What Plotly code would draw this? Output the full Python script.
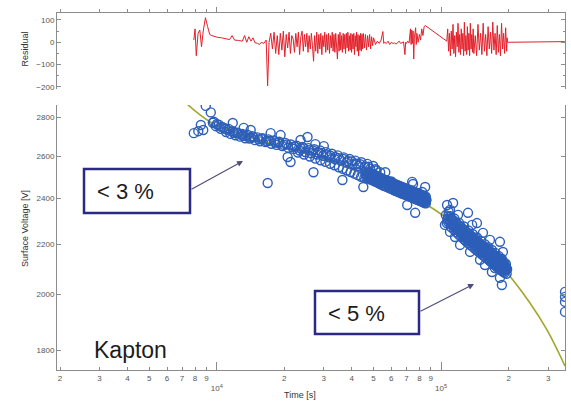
import plotly.graph_objects as go

# ---------------- data ----------------
early_t = [7900, 8270, 8490, 8700, 8930, 9400, 9600]
early_v = [2716, 2726, 2758, 2732, 2860, 2825, 2770]

band_t = [9700, 9900, 10200, 10400, 10700, 11000, 11300, 11500, 11800, 12100, 12400, 12700, 13000, 13400,
          13700, 14000, 14400, 14800, 15200, 15600, 16000, 16500, 17000, 17500, 18000, 18500, 19000, 19600,
          20200, 20800, 21400, 22000, 22700, 23400, 24100, 24800, 25600, 26400, 27200, 28000, 28900, 29800,
          30700, 31600, 32600, 33600, 34600, 35700, 36800, 37900, 39100, 40300, 41500, 42800, 44100, 45500,
          46900, 48300, 49800, 51300]
band_v = [2775, 2752, 2760, 2738, 2746, 2722, 2738, 2712, 2726, 2705, 2718, 2698, 2712, 2690,
          2708, 2688, 2700, 2680, 2694, 2674, 2690, 2670, 2684, 2662, 2678, 2656, 2672, 2650,
          2666, 2642, 2658, 2636, 2652, 2628, 2646, 2620, 2640, 2614, 2634, 2608, 2628, 2602,
          2620, 2594, 2612, 2586, 2604, 2578, 2594, 2568, 2586, 2560, 2578, 2552, 2570, 2545,
          2562, 2538, 2552, 2530]

band2_t = [10000, 10900, 11900, 13100, 14200, 15400, 16700, 18200, 19900, 21700, 23700, 25800, 28300, 30900,
           33700, 36700, 40000, 43600, 47500, 51000, 53500]
band2_v = [2762, 2738, 2718, 2702, 2692, 2684, 2676, 2668, 2656, 2646, 2638, 2630, 2618, 2608,
           2596, 2586, 2574, 2560, 2548, 2536, 2522]

band3_t = [10500, 11150, 12250, 12850, 13550, 14600, 15800, 17200, 18800, 20500, 22300, 24400, 26800, 29300,
           32000, 35000, 38400, 42000, 45800]
band3_v = [2748, 2733, 2716, 2709, 2702, 2694, 2686, 2677, 2667, 2658, 2648, 2639, 2628, 2616,
           2603, 2590, 2576, 2563, 2550]

up_t = [11780, 13180, 14160, 17380, 19250, 23620, 25380, 27500, 30000]
up_v = [2769, 2743, 2732, 2716, 2706, 2681, 2696, 2660, 2650]

low_t = [23000, 24500, 26000, 27500, 29000, 30500, 32000, 33500, 35000, 36500, 38000, 39500, 41000, 42500,
         44000, 45500]
low_v = [2618, 2608, 2598, 2588, 2580, 2572, 2563, 2555, 2546, 2538, 2530, 2523, 2515, 2508, 2500, 2494]

lo_t = [16860, 20690, 21320, 26980, 36310, 45010, 56380, 74310, 84900, 82360, 70630, 76640, 75000, 60000]
lo_v = [2471, 2596, 2571, 2522, 2485, 2452, 2522, 2476, 2452, 2429, 2370, 2335, 2466, 2478]

dense_t = [46000, 47000, 48000, 49000, 50000, 51000, 52000, 53000, 54000, 55000, 56000, 57000, 58000, 59000,
           60000, 61000, 62000, 63000, 64000, 65000, 66000, 67000, 68000, 69000, 70000, 71000, 72000, 73000,
           74000, 75000, 76000, 77000, 78000, 79000, 80000, 81000, 82000, 83000, 84000, 85000, 86000]
dense_v = [2515, 2500, 2510, 2495, 2503, 2488, 2497, 2482, 2490, 2475, 2483, 2468, 2476, 2462,
           2470, 2456, 2464, 2450, 2458, 2444, 2452, 2438, 2446, 2432, 2440, 2427, 2435, 2422,
           2430, 2417, 2424, 2411, 2418, 2405, 2412, 2400, 2406, 2395, 2400, 2390, 2394]

dense2_t = [50500, 55500, 60500, 65500, 70500, 75500, 80500, 85500, 48500, 53500, 58500, 63500, 68500, 73500,
            78500, 83500]
dense2_v = [2496, 2472, 2458, 2440, 2428, 2414, 2400, 2386, 2490, 2470, 2455, 2440, 2425, 2410, 2398, 2385]

dense3_t = [46500, 47500, 48500, 49500, 50500, 51500, 52500, 53500, 54500, 55500, 56500, 57500, 58500, 59500,
            60500, 61500, 62500, 63500, 64500, 65500, 66500, 67500, 68500, 69500, 70500, 71500, 72500, 73500,
            74500, 75500, 76500, 77500, 78500, 79500, 80500, 81500, 82500, 83500, 84500, 85500]
dense3_v = [2526, 2522, 2517, 2513, 2509, 2505, 2501, 2496, 2492, 2488, 2485, 2482, 2478, 2475,
            2472, 2468, 2465, 2462, 2459, 2456, 2453, 2451, 2448, 2446, 2443, 2441, 2438, 2436,
            2433, 2431, 2428, 2426, 2423, 2421, 2419, 2416, 2414, 2412, 2409, 2407]
dense4_v = [2496, 2492, 2487, 2483, 2479, 2475, 2471, 2466, 2462, 2458, 2455, 2452, 2448, 2445,
            2442, 2438, 2435, 2432, 2429, 2426, 2423, 2421, 2418, 2416, 2413, 2411, 2408, 2406,
            2403, 2401, 2398, 2396, 2393, 2391, 2389, 2386, 2384, 2382, 2379, 2377]
dense5_t = [46750, 47750, 48750, 49750, 50750, 51750, 52750, 53750, 54750, 55750, 56750, 57750, 58750, 59750,
            60750, 61750, 62750, 63750, 64750, 65750, 66750, 67750, 68750, 69750, 70750, 71750, 72750, 73750,
            74750, 75750, 76750, 77750, 78750, 79750, 80750, 81750, 82750, 83750, 84750, 85750]
dense5_v = [2509, 2505, 2500, 2496, 2492, 2488, 2484, 2479, 2475, 2471, 2468, 2465, 2461, 2458,
            2455, 2451, 2448, 2445, 2442, 2439, 2436, 2434, 2431, 2429, 2426, 2424, 2421, 2419,
            2416, 2414, 2411, 2409, 2406, 2404, 2402, 2399, 2397, 2395, 2392, 2390]

c2_t = [105000, 107000, 109000, 110000, 112000, 113000, 115000, 116000, 118000, 119000, 121000, 122000, 124000,
        125000, 127000, 128000, 130000, 131000, 133000, 134000, 136000, 137000, 139000, 140000, 142000, 143000,
        145000, 146000, 148000, 149000, 151000, 152000, 154000, 155000, 157000, 158000, 160000, 161000, 163000,
        164000, 166000, 167000, 169000, 170000, 172000, 173000, 175000, 176000, 178000, 179000, 181000, 182000,
        184000, 185000, 187000, 188000, 190000, 191000, 193000, 195000, 197000]
c2_v = [2325, 2305, 2300, 2320, 2285, 2300, 2275, 2292, 2265, 2282, 2258, 2275, 2245,
        2265, 2240, 2255, 2230, 2248, 2222, 2238, 2215, 2230, 2208, 2222, 2200, 2215,
        2192, 2208, 2185, 2200, 2178, 2193, 2172, 2186, 2165, 2180, 2158, 2172, 2152,
        2165, 2146, 2158, 2140, 2152, 2135, 2146, 2128, 2140, 2122, 2135, 2117, 2128,
        2112, 2123, 2107, 2117, 2102, 2112, 2098, 2105, 2098]

c2b_t = [106000, 111000, 114000, 117000, 120000, 123000, 126000, 129000, 132000, 135000, 138000, 141000,
         144000, 147000, 150000, 153000, 156000, 159000, 162000, 165000, 168000, 171000, 174000, 177000,
         180000, 183000, 186000, 189000, 192000, 196000]
c2b_v = [2290, 2272, 2262, 2250, 2240, 2232, 2222, 2212, 2205, 2196, 2190, 2182,
         2176, 2168, 2162, 2155, 2150, 2143, 2138, 2131, 2126, 2120, 2114, 2108,
         2104, 2098, 2093, 2088, 2084, 2080]

c2c_t = [108000, 114500, 120500, 126500, 132500, 138500, 144500, 150500, 156500, 162500, 168500, 174500,
         180500, 186500]
c2c_v = [2340, 2310, 2290, 2275, 2258, 2242, 2228, 2214, 2200, 2188, 2176, 2164, 2152, 2140]

c2d_t = [107500, 110500, 113500, 116500, 119500, 122500, 125500, 128500, 131500, 134500, 137500, 140500,
         143500, 146500, 149500, 152500, 155500, 158500, 161500, 164500, 167500, 170500, 173500, 176500,
         179500, 182500, 185500, 188500, 191500, 194500]
c2d_v = [2320, 2311, 2301, 2292, 2282, 2272, 2263, 2255, 2247, 2239, 2232, 2224,
         2216, 2208, 2200, 2194, 2188, 2183, 2177, 2171, 2166, 2160, 2154, 2149,
         2144, 2139, 2134, 2129, 2124, 2119]
c2e_v = [2295, 2286, 2276, 2267, 2257, 2247, 2238, 2230, 2222, 2214, 2207, 2199,
         2191, 2183, 2175, 2169, 2163, 2158, 2152, 2146, 2141, 2135, 2129, 2124,
         2119, 2114, 2109, 2104, 2099, 2094]
c2f_t = [106750, 109750, 112750, 115750, 118750, 121750, 124750, 127750, 130750, 133750, 136750, 139750,
         142750, 145750, 148750, 151750, 154750, 157750, 160750, 163750, 166750, 169750, 172750, 175750,
         178750, 181750, 184750, 187750, 190750, 193750]
c2f_v = [2307, 2298, 2288, 2279, 2269, 2259, 2250, 2242, 2234, 2226, 2219, 2211,
         2203, 2195, 2187, 2181, 2175, 2170, 2164, 2158, 2153, 2147, 2141, 2136,
         2131, 2126, 2121, 2116, 2111, 2106]

c2o_t = [113100, 109600, 131800, 144500, 153700, 182900, 188600, 106300, 119000, 165100, 137500, 109600,
         121500, 134600, 149100, 168500, 182900, 186600, 104000, 115400, 127900, 156900, 173800]
c2o_v = [2379, 2348, 2335, 2290, 2248, 2210, 2168, 2370, 2326, 2218, 2282, 2252,
         2197, 2168, 2136, 2087, 2064, 2036, 2282, 2230, 2218, 2115, 2103]

right_t = [356800, 356800, 356800, 356800]
right_v = [2010, 1991, 1972, 1935]

fit_t = [7400, 9520, 14060, 23490, 32960, 53410, 86500, 104100, 149100, 196700, 249000, 296600, 356800]
fit_v = [2868, 2769, 2696, 2621, 2571, 2476, 2370, 2317, 2197, 2084, 1968, 1870, 1746]

res_t = [7900, 8000, 8100, 8250, 8400, 8550, 8700, 8900, 9100, 9300, 9500, 9800, 10100, 10500, 11000, 11400,
         11700, 12000, 12500, 13000, 13300, 13600, 13900, 14200, 14500, 14800, 15200, 15500, 15800, 16200,
         16600, 16850, 17100, 17400, 17700, 18000, 18300, 18600, 18900, 19200, 19500, 19800, 20100, 20400,
         20700, 21000, 21300, 21600, 21900, 22200, 22500, 22800, 23100, 23400, 23700, 24000, 24300, 24600,
         24900, 25200, 25500, 25800, 26100, 26400, 26700, 27000, 27300, 27600, 27900, 28200, 28500, 28800,
         29100, 29400, 29700, 30000, 30300, 30600, 30900, 31200, 31500, 31800, 32100, 32400, 32700, 33000,
         33300, 33600, 33900, 34200, 34500, 34800, 35100, 35400, 35700, 36000, 36300, 36600, 36900, 37200,
         37500, 37800, 38100, 38400, 38700, 39000, 39300, 39600, 39900, 40200, 40500, 40800, 41100, 41400,
         41700, 42000, 42300, 42600, 42900, 43200, 43500, 43800, 44100, 44400, 44700, 45000, 45500, 46000,
         46500, 47000, 47500, 48000, 48500, 49000, 49500, 50000, 51000, 52000, 53000, 54000, 55000, 55500,
         56000, 57000, 58000, 59000, 60000, 61000, 62000, 63000, 64000, 65000, 66000, 67000, 68000, 69000,
         69500, 70000, 71000, 72000, 73000, 73500, 74000, 74500, 75000, 75500, 76000, 77000, 77500, 78000,
         79000, 80000, 81000, 82000, 83000, 84000, 85000, 106000, 107000, 108000, 109000, 110000, 111000,
         112000, 113000, 114000, 115000, 116000, 117000, 118000, 119000, 120000, 121000, 122000, 123000,
         124000, 125000, 126000, 127000, 128000, 129000, 130000, 131000, 132000, 133000, 134000, 135000,
         136000, 137000, 138000, 139000, 140000, 142000, 144000, 146000, 148000, 150000, 152000, 154000,
         156000, 158000, 160000, 162000, 164000, 166000, 168000, 170000, 172000, 174000, 176000, 178000,
         180000, 182000, 184000, 186000, 188000, 190000, 192000, 194000, 196000, 197000, 198000, 356000]
res_v = [10, 60, -60, 40, 55, -20, 50, 110, 70, 35, 30, 25, 22, 20, 15, 12,
         30, 10, 8, 5, 30, 0, 25, 5, 20, -2, -5, -10, 0, -5,
         10, -195, 0, 40, -30, 45, -50, 30, -55, 40, -35, 50, -65, 35,
         -25, 45, -50, 30, 15, -45, 40, -20, 45, -55, 25, 50, -40, 35,
         -20, 40, -45, 30, -30, 40, -15, -85, 30, -40, 45, -50, 35, -30,
         40, -55, 30, -20, 45, -45, 35, -35, 40, -50, 30, -25, 45, -40,
         35, -45, 40, -30, -75, 35, -40, 45, -35, 30, -45, 40, -30, 35,
         -50, 40, -25, 45, -40, 30, -35, 40, -45, 35, -30, 40, -55, 30,
         -20, 45, -40, 35, -62, 30, -35, 40, -40, 35, -30, 40, -25, 35,
         -35, 30, -20, 35, -30, 25, -15, 20, -10, 5, -5, 10, 48, -5,
         0, -5, 5, -10, 0, -5, -3, -8, 0, 5, -5, -3, 2, -55,
         0, -5, 5, -3, 60, -10, 55, -5, 50, -75, 20, 65, -10, 40,
         0, 35, 10, 60, 30, 70, 75, 5, 60, -40, 40, -60, 50,
         -30, 80, -50, 30, -65, 45, -20, 85, -45, 35, -55, 60,
         -30, 40, -60, 90, -40, 30, -55, 70, -35, 40, -60, 85,
         -30, 35, -45, 60, -50, 30, -60, 80, -35, 40, -55, 85,
         -40, 35, -60, 70, -30, 45, -50, 90, -35, 40, -55, 75,
         -45, 35, -60, 85, -30, 40, -50, 65, -40, 20, 0, 3]

x_tickvals = [2000, 3000, 4000, 5000, 6000, 7000, 8000, 9000, 10000,
              20000, 30000, 40000, 50000, 60000, 70000, 80000, 90000, 100000, 200000, 300000]
x_ticktext = ["2", "3", "4", "5", "6", "7", "8", "9", "<br>10<sup>4</sup>",
              "2", "3", "4", "5", "6", "7", "8", "9", "<br>10<sup>5</sup>", "2", "3"]
x_major = [10000, 100000]
v_tickvals = [1800, 2000, 2200, 2400, 2600, 2800]
r_tickvals = [-200, -100, 0, 100]

# ---------------- figure ----------------
W, H = 571, 414
def px(x):
    return x / W
def py(y):
    return 1 - y / H

scat_t = (early_t + band_t + band2_t + band3_t + up_t + low_t + lo_t + dense_t + dense2_t + dense3_t + dense3_t
          + dense5_t + c2_t + c2b_t + c2c_t + c2d_t + c2d_t + c2f_t + c2o_t + right_t)
scat_v = (early_v + band_v + band2_v + band3_v + up_v + low_v + lo_v + dense_v + dense2_v + dense3_v + dense4_v
          + dense5_v + c2_v + c2b_v + c2c_v + c2d_v + c2e_v + c2f_v + c2o_v + right_v)

AX = "#8c8c8c"
TK = "#555555"
FONT = "Liberation Sans, Arial, sans-serif"
BLUE = "rgb(45,95,185)"

fig = go.Figure()
fig.add_trace(go.Scatter(x=res_t, y=res_v, mode="lines", line=dict(color="#e3202a", width=1),
                         xaxis="x2", yaxis="y2", showlegend=False))
fig.add_trace(go.Scatter(x=fit_t, y=fit_v, mode="lines", line=dict(color="#a2a62c", width=1.6, shape="spline"),
                         xaxis="x", yaxis="y", showlegend=False))
fig.add_trace(go.Scatter(x=scat_t, y=scat_v, mode="markers",
                         marker=dict(symbol="circle-open", size=9, color=BLUE, line=dict(width=1.4, color=BLUE)),
                         xaxis="x", yaxis="y", showlegend=False))

xdom = [px(57), px(565)]
xr = [3.2876, 5.5524]
common_x = dict(type="log", range=xr, domain=xdom, showgrid=False, zeroline=False, showline=True,
                linecolor=AX, linewidth=1, tickmode="array", tickvals=x_tickvals, tickcolor=AX, tickangle=0,
                tickfont=dict(size=8, color=TK, family=FONT), automargin=False)

fig.update_layout(
    width=W, height=H, margin=dict(l=0, r=0, t=0, b=0, pad=0),
    paper_bgcolor="white", plot_bgcolor="white", showlegend=False,
    xaxis=dict(**common_x, anchor="y", ticktext=x_ticktext, ticks="inside", ticklen=3,
               ticklabelstandoff=0,
               minor=dict(tickmode="array", tickvals=x_major, ticks="inside", ticklen=8, tickcolor=AX)),
    xaxis2=dict(**common_x, anchor="y2", side="top", matches="x", showticklabels=False,
                ticks="outside", ticklen=3,
                minor=dict(tickmode="array", tickvals=x_major, ticks="outside", ticklen=5, tickcolor=AX)),
    yaxis=dict(type="log", range=[3.2388, 3.4571], domain=[py(370), py(105)], anchor="x",
               showgrid=False, zeroline=False, showline=True, linecolor=AX, mirror="ticks",
               tickmode="array", tickvals=v_tickvals, ticks="inside", ticklen=4, tickcolor=AX,
               tickfont=dict(size=8, color=TK, family=FONT), automargin=False),
    yaxis2=dict(range=[-209, 131], domain=[py(89), py(13)], anchor="x2",
                showgrid=False, zeroline=False, showline=True, linecolor=AX, mirror="ticks",
                tickmode="array", tickvals=r_tickvals, ticks="inside", ticklen=4, tickcolor=AX,
                minor=dict(dtick=50, ticks="inside", ticklen=2, tickcolor=AX),
                tickfont=dict(size=8, color=TK, family=FONT), automargin=False),
)

BOX = "#2a2a86"
ARROW = "#4e4e7c"
fig.add_shape(type="rect", xref="paper", yref="paper", x0=px(84), x1=px(190), y0=py(213), y1=py(169),
              line=dict(color=BOX, width=2.5), fillcolor="white", layer="above")
fig.add_shape(type="rect", xref="paper", yref="paper", x0=px(315), x1=px(419), y0=py(334), y1=py(291),
              line=dict(color=BOX, width=2.5), fillcolor="white", layer="above")

ann = []
ann.append(dict(text="< 3 %", x=px(95), y=py(191), xref="paper", yref="paper", xanchor="left", yanchor="middle",
                showarrow=False, font=dict(size=22, color="#1c1c1c", family=FONT)))
ann.append(dict(text="< 5 %", x=px(326), y=py(313), xref="paper", yref="paper", xanchor="left", yanchor="middle",
                showarrow=False, font=dict(size=22, color="#1c1c1c", family=FONT)))
ann.append(dict(text="Kapton", x=px(92), y=py(350), xref="paper", yref="paper", xanchor="left", yanchor="middle",
                showarrow=False, font=dict(size=23, color="#1c1c1c", family=FONT)))
ann.append(dict(text="", x=px(243), y=py(161), xref="paper", yref="paper", showarrow=True, ax=-53, ay=29,
                arrowhead=2, arrowsize=1, arrowwidth=1.2, arrowcolor=ARROW))
ann.append(dict(text="", x=px(474), y=py(284), xref="paper", yref="paper", showarrow=True, ax=-55, ay=28,
                arrowhead=2, arrowsize=1, arrowwidth=1.2, arrowcolor=ARROW))
ann.append(dict(text="Residual", x=px(17), y=py(30), xref="paper", yref="paper", textangle=-90,
                showarrow=False, font=dict(size=9, color="#333333", family=FONT)))
ann.append(dict(text="Surface Voltage [V]", x=px(18), y=py(229), xref="paper", yref="paper", textangle=-90,
                showarrow=False, font=dict(size=9, color="#333333", family=FONT)))
ann.append(dict(text="Time [s]", x=px(300), y=py(402), xref="paper", yref="paper",
                showarrow=False, font=dict(size=9, color="#333333", family=FONT)))
fig.update_layout(annotations=ann)

fig.write_html("out.html")
